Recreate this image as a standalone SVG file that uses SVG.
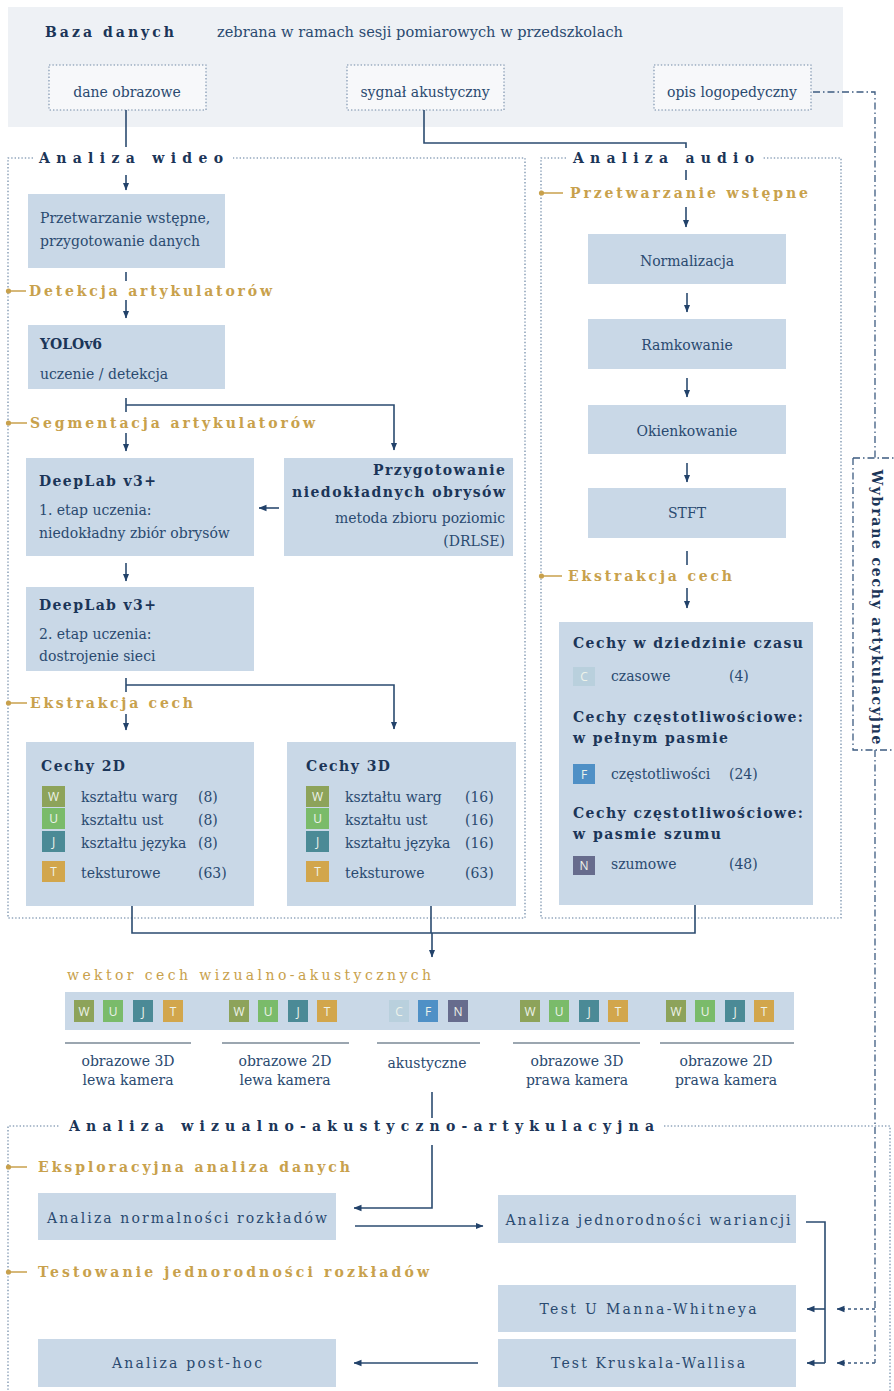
<svg xmlns="http://www.w3.org/2000/svg" width="894" height="1391" viewBox="0 0 894 1391">
<defs>
<marker id="ah" viewBox="0 0 8 8" refX="7.5" refY="4" markerWidth="8" markerHeight="8" markerUnits="userSpaceOnUse" orient="auto"><path d="M0,0.8 L8,4 L0,7.2 Z" fill="#22426a"/></marker>
<style>
.panel{fill:none;stroke:#5d7b9c;stroke-width:1.1;stroke-dasharray:1.4 2}
.src{fill:#f7f8fa;stroke:#7189a6;stroke-width:1.1;stroke-dasharray:1.4 2}
.box{fill:#c9d8e7}
.t{font-family:"DejaVu Serif","Liberation Serif",serif;font-size:14px;fill:#2a4a70}
.b{font-weight:bold;fill:#1b3558}
.h{font-family:"DejaVu Serif","Liberation Serif",serif;font-size:14px;font-weight:bold;fill:#1b3558}
.g{fill:#c8a14c}
.m{text-anchor:middle}
.e{text-anchor:end}
.c{stroke:#2b4b70;stroke-width:1.6;fill:none}
.ca{stroke:#2b4b70;stroke-width:1.6;fill:none;marker-end:url(#ah)}
.dd{stroke:#3c5b80;stroke-width:1.3;fill:none;stroke-dasharray:7 3 1.5 3}
.dda{stroke:#3c5b80;stroke-width:1.3;fill:none;stroke-dasharray:3 3;marker-end:url(#ah)}
.sep{stroke:#7a8896;stroke-width:1.6}
.bt{font-family:"Open Sans","DejaVu Sans",sans-serif;font-size:12px;fill:#eef3ea;text-anchor:middle}
.gold{fill:#c8a14c}
.dot{fill:#c8a14c}
.gl{stroke:#c8a14c;stroke-width:1.5}
</style>
</defs>

<!-- Top panel -->
<g id="baza">
<rect x="8" y="7" width="835" height="120" fill="#eef1f5"/>
<text class="h" x="45" y="37" textLength="129" lengthAdjust="spacing">Baza danych</text>
<text class="t" x="217" y="37" textLength="406" lengthAdjust="spacingAndGlyphs">zebrana w ramach sesji pomiarowych w przedszkolach</text>
</g>
<g id="dane-obrazowe"><rect class="src" x="49" y="65" width="157" height="45"/><text class="t m" x="127" y="97">dane obrazowe</text></g>
<g id="sygnal"><rect class="src" x="347" y="65" width="157" height="45"/><text class="t m" x="425" y="97">sygnał akustyczny</text></g>
<g id="opis"><rect class="src" x="654" y="65" width="157" height="45"/><text class="t m" x="732" y="97">opis logopedyczny</text></g>

<!-- Panels -->
<g id="panel-wideo">
<path class="panel" d="M33,158 H8 V918 H525 V158 H233"/>
<text class="h" x="39" y="163" textLength="184" lengthAdjust="spacing">Analiza wideo</text>
</g>
<g id="panel-audio">
<path class="panel" d="M566,158 H541 V918 H841 V158 H762"/>
<text class="h" x="573" y="163" textLength="181" lengthAdjust="spacing">Analiza audio</text>
</g>
<g id="panel-analiza">
<path class="panel" d="M8,1400 V1126 H60 M664,1126 H890 V1400"/>
<text class="h" x="69" y="1131" textLength="585" lengthAdjust="spacing">Analiza wizualno-akustyczno-artykulacyjna</text>
</g>

<!-- Gold stage headings -->
<g id="stages">
<circle class="dot" cx="8.5" cy="291" r="2.6"/><line class="gl" x1="8" y1="291" x2="26" y2="291"/>
<text class="h g" x="29" y="296" textLength="243" lengthAdjust="spacing">Detekcja artykulatorów</text>
<circle class="dot" cx="8.5" cy="423" r="2.6"/><line class="gl" x1="8" y1="423" x2="27" y2="423"/>
<text class="h g" x="30" y="428" textLength="285" lengthAdjust="spacing">Segmentacja artykulatorów</text>
<circle class="dot" cx="8.5" cy="703" r="2.6"/><line class="gl" x1="8" y1="703" x2="27" y2="703"/>
<text class="h g" x="30" y="708" textLength="163" lengthAdjust="spacing">Ekstrakcja cech</text>
<circle class="dot" cx="541.5" cy="193" r="2.6"/><line class="gl" x1="541" y1="193" x2="563" y2="193"/>
<text class="h g" x="570" y="198" textLength="238" lengthAdjust="spacing">Przetwarzanie wstępne</text>
<circle class="dot" cx="541.5" cy="576" r="2.6"/><line class="gl" x1="541" y1="576" x2="562" y2="576"/>
<text class="h g" x="568" y="581" textLength="164" lengthAdjust="spacing">Ekstrakcja cech</text>
<circle class="dot" cx="8.5" cy="1167" r="2.6"/><line class="gl" x1="8" y1="1167" x2="27" y2="1167"/>
<text class="h g" x="38" y="1172" textLength="312" lengthAdjust="spacing">Eksploracyjna analiza danych</text>
<circle class="dot" cx="8.5" cy="1272" r="2.6"/><line class="gl" x1="8" y1="1272" x2="27" y2="1272"/>
<text class="h g" x="38" y="1277" textLength="391" lengthAdjust="spacing">Testowanie jednorodności rozkładów</text>
</g>

<!-- Video nodes -->
<g id="przetwarzanie-wideo"><rect class="box" x="28" y="194" width="197" height="74"/>
<text class="t" x="40" y="223">Przetwarzanie wstępne,</text><text class="t" x="40" y="246">przygotowanie danych</text></g>
<g id="yolo"><rect class="box" x="28" y="325" width="197" height="64"/>
<text class="t b" x="40" y="349" font-size="15">YOLOv6</text><text class="t" x="40" y="379">uczenie / detekcja</text></g>
<g id="deeplab1"><rect class="box" x="26" y="458" width="228" height="98"/>
<text class="t b" x="39" y="486" textLength="117" lengthAdjust="spacing">DeepLab v3+</text>
<text class="t" x="39" y="515">1. etap uczenia:</text>
<text class="t" x="39" y="538">niedokładny zbiór obrysów</text></g>
<g id="przygotowanie"><rect class="box" x="284" y="458" width="229" height="98"/>
<text class="t b e" x="505" y="475" textLength="132" lengthAdjust="spacing">Przygotowanie</text>
<text class="t b e" x="505" y="497" textLength="213" lengthAdjust="spacing">niedokładnych obrysów</text>
<text class="t e" x="505" y="523">metoda zbioru poziomic</text>
<text class="t e" x="505" y="546">(DRLSE)</text></g>
<g id="deeplab2"><rect class="box" x="26" y="587" width="228" height="84"/>
<text class="t b" x="39" y="610" textLength="117" lengthAdjust="spacing">DeepLab v3+</text>
<text class="t" x="39" y="639">2. etap uczenia:</text>
<text class="t" x="39" y="661">dostrojenie sieci</text></g>

<g id="cechy2d"><rect class="box" x="26" y="742" width="228" height="164"/>
<text class="t b" x="41" y="771" font-size="15" textLength="84" lengthAdjust="spacing">Cechy 2D</text>
<rect x="42" y="786" width="23" height="21" fill="#8da35a"/><text class="bt" x="53.5" y="801">W</text>
<rect x="42" y="808" width="23" height="21" fill="#7abb6a"/><text class="bt" x="53.5" y="823">U</text>
<rect x="42" y="831" width="23" height="21" fill="#4b8a96"/><text class="bt" x="53.5" y="846">J</text>
<rect x="42" y="861" width="23" height="21" fill="#d2a64c"/><text class="bt" x="53.5" y="876">T</text>
<text class="t" x="81" y="802">kształtu warg</text><text class="t" x="198" y="802">(8)</text>
<text class="t" x="81" y="825">kształtu ust</text><text class="t" x="198" y="825">(8)</text>
<text class="t" x="81" y="848">kształtu języka</text><text class="t" x="198" y="848">(8)</text>
<text class="t" x="81" y="878">teksturowe</text><text class="t" x="198" y="878">(63)</text></g>

<g id="cechy3d"><rect class="box" x="287" y="742" width="229" height="164"/>
<text class="t b" x="306" y="771" font-size="15" textLength="84" lengthAdjust="spacing">Cechy 3D</text>
<rect x="306" y="786" width="23" height="21" fill="#8da35a"/><text class="bt" x="317.5" y="801">W</text>
<rect x="306" y="808" width="23" height="21" fill="#7abb6a"/><text class="bt" x="317.5" y="823">U</text>
<rect x="306" y="831" width="23" height="21" fill="#4b8a96"/><text class="bt" x="317.5" y="846">J</text>
<rect x="306" y="861" width="23" height="21" fill="#d2a64c"/><text class="bt" x="317.5" y="876">T</text>
<text class="t" x="345" y="802">kształtu warg</text><text class="t" x="465" y="802">(16)</text>
<text class="t" x="345" y="825">kształtu ust</text><text class="t" x="465" y="825">(16)</text>
<text class="t" x="345" y="848">kształtu języka</text><text class="t" x="465" y="848">(16)</text>
<text class="t" x="345" y="878">teksturowe</text><text class="t" x="465" y="878">(63)</text></g>

<!-- Audio nodes -->
<g id="normalizacja"><rect class="box" x="588" y="234" width="198" height="50"/><text class="t m" x="687" y="266">Normalizacja</text></g>
<g id="ramkowanie"><rect class="box" x="588" y="319" width="198" height="50"/><text class="t m" x="687" y="350">Ramkowanie</text></g>
<g id="okienkowanie"><rect class="box" x="588" y="405" width="198" height="49"/><text class="t m" x="687" y="436">Okienkowanie</text></g>
<g id="stft"><rect class="box" x="588" y="488" width="198" height="50"/><text class="t m" x="687" y="518">STFT</text></g>

<g id="cechy-audio"><rect class="box" x="559" y="622" width="254" height="283"/>
<text class="t b" x="573" y="648" textLength="230" lengthAdjust="spacing">Cechy w dziedzinie czasu</text>
<rect x="573" y="667" width="22" height="19" fill="#b9d0dd"/><text class="bt" x="584" y="681" fill="#e4eef3">C</text>
<text class="t" x="611" y="681">czasowe</text><text class="t" x="729" y="681">(4)</text>
<text class="t b" x="573" y="722" textLength="230" lengthAdjust="spacing">Cechy częstotliwościowe:</text>
<text class="t b" x="573" y="743" textLength="155" lengthAdjust="spacing">w pełnym pasmie</text>
<rect x="573" y="764" width="22" height="20" fill="#4f90c6"/><text class="bt" x="584" y="779">F</text>
<text class="t" x="611" y="779">częstotliwości</text><text class="t" x="729" y="779">(24)</text>
<text class="t b" x="573" y="818" textLength="230" lengthAdjust="spacing">Cechy częstotliwościowe:</text>
<text class="t b" x="573" y="839" textLength="148" lengthAdjust="spacing">w pasmie szumu</text>
<rect x="573" y="856" width="22" height="19" fill="#676c8d"/><text class="bt" x="584" y="870">N</text>
<text class="t" x="611" y="869">szumowe</text><text class="t" x="729" y="869">(48)</text></g>

<!-- Feature vector -->
<g id="wektor">
<text class="t gold" x="67" y="980" textLength="364" lengthAdjust="spacing">wektor cech wizualno-akustycznych</text>
<rect x="65" y="992" width="729" height="38" fill="#c9d8e7"/>
<g>
<rect x="74" y="1000" width="20" height="22" fill="#8da35a"/><text class="bt" x="84" y="1016">W</text>
<rect x="103" y="1000" width="20" height="22" fill="#7abb6a"/><text class="bt" x="113" y="1016">U</text>
<rect x="133" y="1000" width="20" height="22" fill="#4b8a96"/><text class="bt" x="143" y="1016">J</text>
<rect x="163" y="1000" width="20" height="22" fill="#d2a64c"/><text class="bt" x="173" y="1016">T</text>
<rect x="229" y="1000" width="20" height="22" fill="#8da35a"/><text class="bt" x="239" y="1016">W</text>
<rect x="258" y="1000" width="20" height="22" fill="#7abb6a"/><text class="bt" x="268" y="1016">U</text>
<rect x="288" y="1000" width="20" height="22" fill="#4b8a96"/><text class="bt" x="298" y="1016">J</text>
<rect x="317" y="1000" width="20" height="22" fill="#d2a64c"/><text class="bt" x="327" y="1016">T</text>
<rect x="389" y="1000" width="20" height="22" fill="#b9d0dd"/><text class="bt" x="399" y="1016" fill="#e4eef3">C</text>
<rect x="418" y="1000" width="20" height="22" fill="#4f90c6"/><text class="bt" x="428" y="1016">F</text>
<rect x="448" y="1000" width="20" height="22" fill="#676c8d"/><text class="bt" x="458" y="1016">N</text>
<rect x="520" y="1000" width="20" height="22" fill="#8da35a"/><text class="bt" x="530" y="1016">W</text>
<rect x="549" y="1000" width="20" height="22" fill="#7abb6a"/><text class="bt" x="559" y="1016">U</text>
<rect x="579" y="1000" width="20" height="22" fill="#4b8a96"/><text class="bt" x="589" y="1016">J</text>
<rect x="608" y="1000" width="20" height="22" fill="#d2a64c"/><text class="bt" x="618" y="1016">T</text>
<rect x="666" y="1000" width="20" height="22" fill="#8da35a"/><text class="bt" x="676" y="1016">W</text>
<rect x="695" y="1000" width="20" height="22" fill="#7abb6a"/><text class="bt" x="705" y="1016">U</text>
<rect x="725" y="1000" width="20" height="22" fill="#4b8a96"/><text class="bt" x="735" y="1016">J</text>
<rect x="754" y="1000" width="20" height="22" fill="#d2a64c"/><text class="bt" x="764" y="1016">T</text>
</g>
<line class="sep" x1="65" y1="1043" x2="191" y2="1043"/>
<line class="sep" x1="222" y1="1043" x2="349" y2="1043"/>
<line class="sep" x1="377" y1="1043" x2="480" y2="1043"/>
<line class="sep" x1="513" y1="1043" x2="640" y2="1043"/>
<line class="sep" x1="660" y1="1043" x2="794" y2="1043"/>
<text class="t m" x="128" y="1066">obrazowe 3D</text><text class="t m" x="128" y="1085">lewa kamera</text>
<text class="t m" x="285" y="1066">obrazowe 2D</text><text class="t m" x="285" y="1085">lewa kamera</text>
<text class="t m" x="427" y="1068">akustyczne</text>
<text class="t m" x="577" y="1066">obrazowe 3D</text><text class="t m" x="577" y="1085">prawa kamera</text>
<text class="t m" x="726" y="1066">obrazowe 2D</text><text class="t m" x="726" y="1085">prawa kamera</text>
</g>

<!-- Analysis nodes -->
<g id="normalnosc"><rect class="box" x="38" y="1193" width="298" height="47"/><text class="t m" x="187" y="1223" textLength="280" lengthAdjust="spacing">Analiza normalności rozkładów</text></g>
<g id="wariancja"><rect class="box" x="498" y="1195" width="298" height="48"/><text class="t m" x="648" y="1225" textLength="285" lengthAdjust="spacing">Analiza jednorodności wariancji</text></g>
<g id="mann"><rect class="box" x="498" y="1285" width="298" height="47"/><text class="t m" x="648" y="1314" textLength="217" lengthAdjust="spacing">Test U Manna-Whitneya</text></g>
<g id="kruskal"><rect class="box" x="498" y="1339" width="298" height="48"/><text class="t m" x="648" y="1368" textLength="194" lengthAdjust="spacing">Test Kruskala-Wallisa</text></g>
<g id="posthoc"><rect class="box" x="38" y="1339" width="298" height="48"/><text class="t m" x="187" y="1368" textLength="150" lengthAdjust="spacing">Analiza post-hoc</text></g>

<g id="wybrane">
<path class="dd" d="M853,458 H900 M853,458 V750 H900"/>
<text class="h" transform="translate(876,607) rotate(90)" text-anchor="middle" y="4.5" textLength="275" lengthAdjust="spacing">Wybrane cechy artykulacyjne</text>
</g>

<!-- Connectors -->
<g id="connectors">
<line class="c" x1="126" y1="110" x2="126" y2="147"/>
<line class="ca" x1="126" y1="175" x2="126" y2="190"/>
<path class="c" d="M424,110 V143 H686 V148"/>
<line class="c" x1="686" y1="170" x2="686" y2="180"/>
<line class="ca" x1="686" y1="207" x2="686" y2="227"/>
<line class="c" x1="126" y1="272" x2="126" y2="281"/>
<line class="ca" x1="126" y1="300" x2="126" y2="318"/>
<line class="c" x1="126" y1="398" x2="126" y2="412"/>
<path class="ca" d="M126,405 H394 V450"/>
<line class="ca" x1="126" y1="433" x2="126" y2="451"/>
<line class="ca" x1="279" y1="508" x2="259" y2="508"/>
<line class="ca" x1="126" y1="563" x2="126" y2="581"/>
<line class="c" x1="126" y1="678" x2="126" y2="692"/>
<path class="ca" d="M126,685 H394 V729"/>
<line class="ca" x1="126" y1="714" x2="126" y2="730"/>
<line class="ca" x1="687" y1="293" x2="687" y2="312"/>
<line class="ca" x1="687" y1="378" x2="687" y2="397"/>
<line class="ca" x1="687" y1="463" x2="687" y2="482"/>
<line class="c" x1="687" y1="551" x2="687" y2="565"/>
<line class="ca" x1="687" y1="588" x2="687" y2="608"/>
<path class="c" d="M132,906 V933 H695 V905"/>
<line class="c" x1="431" y1="906" x2="431" y2="933"/>
<line class="ca" x1="432" y1="933" x2="432" y2="957"/>
<line class="c" x1="432" y1="1092" x2="432" y2="1118"/>
<path class="ca" d="M432,1145 V1208 H354"/>
<line class="ca" x1="355" y1="1226" x2="483" y2="1226"/>
<path class="c" d="M806,1222 H825 V1363"/>
<line class="ca" x1="825" y1="1309" x2="807" y2="1309"/>
<line class="ca" x1="825" y1="1363" x2="807" y2="1363"/>
<line class="ca" x1="478" y1="1363" x2="354" y2="1363"/>
<path class="dd" d="M813,92 H875 V458 M875,750 V1363"/>
<line class="dda" x1="875" y1="1309" x2="837" y2="1309"/>
<line class="dda" x1="875" y1="1363" x2="837" y2="1363"/>
</g>
</svg>
